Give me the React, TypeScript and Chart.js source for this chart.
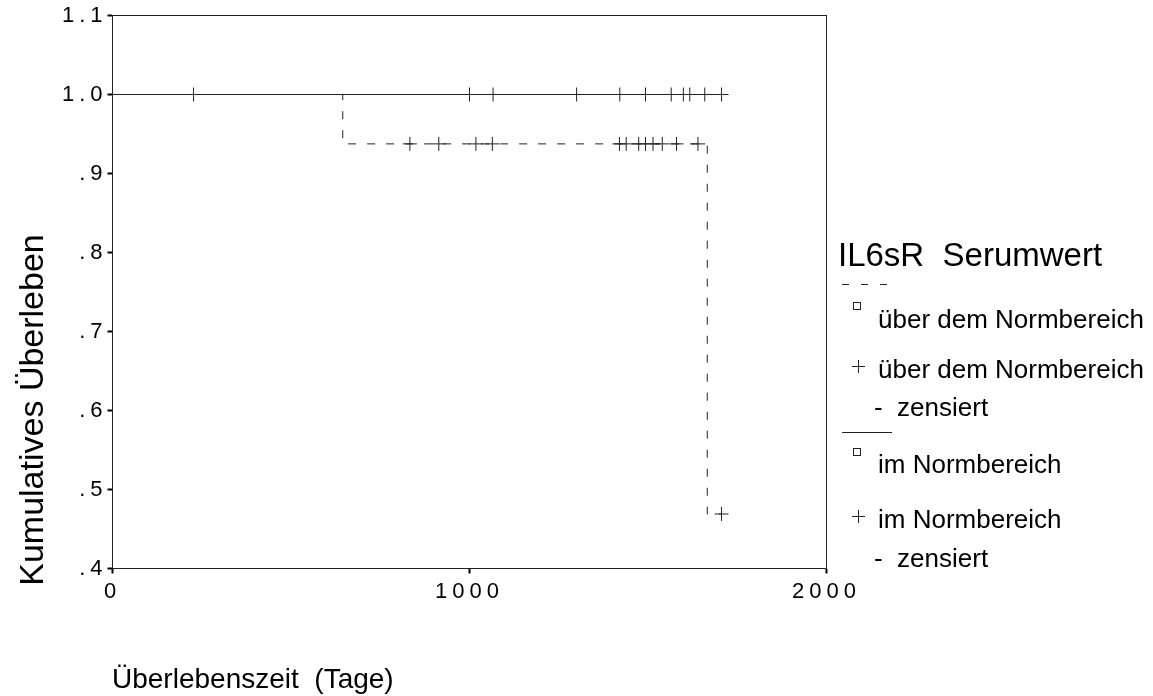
import React, { useEffect, useRef } from "react";
import { Chart, registerables } from "chart.js";

Chart.register(...registerables);

// ---- data ----
const normStepTimes = [0, 1706];
const normStepSurv = [1.0, 1.0];
const normCensorTimes = [227, 1000, 1066, 1300, 1421, 1493, 1565, 1599, 1617, 1659, 1706];
const normCensorSurv = [1, 1, 1, 1, 1, 1, 1, 1, 1, 1, 1];

const highStepTimes = [0, 645, 1666, 1706];
const highStepSurv = [1.0, 0.9375, 0.469, 0.469];
const highCensorTimes = [833, 914, 1018, 1064, 1420, 1439, 1474, 1493, 1514, 1540, 1580, 1640, 1706];
const highCensorSurv = [0.9375, 0.9375, 0.9375, 0.9375, 0.9375, 0.9375, 0.9375, 0.9375, 0.9375, 0.9375, 0.9375, 0.9375, 0.469];

const yTickValues = [0.4, 0.5, 0.6, 0.7, 0.8, 0.9, 1.0, 1.1];
const yTickLabels = [".4", ".5", ".6", ".7", ".8", ".9", "1.0", "1.1"];
const xTickValues = [0, 1000, 2000];
const xTickLabels = ["0", "1000", "2000"];

const xTitle = "Überlebenszeit  (Tage)";
const yTitle = "Kumulatives Überleben";
const legendTitle = "IL6sR  Serumwert";
const legendLabels = [
  "über dem Normbereich",
  "über dem Normbereich",
  "-  zensiert",
  "im Normbereich",
  "im Normbereich",
  "-  zensiert",
];

const FONT = "'Liberation Sans', Arial, sans-serif";
const LINE = "#222";

const toPts = (xs: number[], ys: number[]) => xs.map((x, i) => ({ x, y: ys[i] }));

const decorPlugin = {
  id: "decor",
  beforeDraw(chart: any) {
    (chart.ctx as any).letterSpacing = "5px";
  },
  beforeDatasetsDraw(chart: any) {
    const ctx = chart.ctx;
    (ctx as any).letterSpacing = "0px";
    const a = chart.chartArea;
    ctx.save();
    ctx.strokeStyle = LINE;
    ctx.lineWidth = 1;
    ctx.strokeRect(a.left, a.top, a.right - a.left, a.bottom - a.top);
    ctx.restore();
  },
  afterDraw(chart: any) {
    const ctx = chart.ctx;
    ctx.save();
    (ctx as any).letterSpacing = "0px";
    ctx.fillStyle = "#000";
    ctx.textBaseline = "alphabetic";
    // axis titles
    ctx.font = `28px ${FONT}`;
    ctx.textAlign = "left";
    ctx.fillText(xTitle, 112, 688);
    ctx.save();
    ctx.translate(43, 410);
    ctx.rotate(-Math.PI / 2);
    ctx.textAlign = "center";
    ctx.font = `34px ${FONT}`;
    ctx.fillText(yTitle, 0, 0);
    ctx.restore();

    // legend
    ctx.textAlign = "left";
    ctx.font = `33px ${FONT}`;
    ctx.fillText(legendTitle, 838, 266);
    ctx.strokeStyle = LINE;
    ctx.lineWidth = 1;
    ctx.setLineDash([7, 12]);
    ctx.beginPath();
    ctx.moveTo(842, 284.5);
    ctx.lineTo(888, 284.5);
    ctx.stroke();
    ctx.setLineDash([]);
    ctx.beginPath();
    ctx.moveTo(842, 432.5);
    ctx.lineTo(892, 432.5);
    ctx.stroke();

    const square = (cy: number) => {
      ctx.strokeRect(853.5, cy - 3.5, 7, 7);
    };
    const plus = (cy: number) => {
      ctx.beginPath();
      ctx.moveTo(852, cy + 0.5);
      ctx.lineTo(865, cy + 0.5);
      ctx.moveTo(858.5, cy - 6);
      ctx.lineTo(858.5, cy + 7);
      ctx.stroke();
    };
    square(306);
    plus(366);
    square(452);
    plus(516);

    ctx.font = `26px ${FONT}`;
    const xs = [878, 878, 874, 878, 878, 874];
    const ys = [328, 378, 416, 473, 528, 567];
    legendLabels.forEach((t, i) => ctx.fillText(t, xs[i], ys[i]));
    ctx.restore();
  },
};

export default function App() {
  const ref = useRef<HTMLCanvasElement | null>(null);
  useEffect(() => {
    if (!ref.current) return;
    const chart = new Chart(ref.current, {
      type: "line",
      data: {
        datasets: [
          {
            label: "im Normbereich",
            data: toPts(normStepTimes, normStepSurv),
            stepped: "before",
            borderColor: LINE,
            borderWidth: 1,
            pointRadius: 0,
            fill: false,
          },
          {
            label: "über dem Normbereich",
            data: toPts(highStepTimes, highStepSurv),
            stepped: "before",
            borderColor: LINE,
            borderWidth: 1,
            borderDash: [8, 11],
            pointRadius: 0,
            fill: false,
          },
          {
            label: "im Normbereich - zensiert",
            data: toPts(normCensorTimes, normCensorSurv),
            showLine: false,
            pointStyle: "cross",
            pointRadius: 7,
            pointBorderWidth: 1,
            pointBorderColor: LINE,
            borderColor: LINE,
          },
          {
            label: "über dem Normbereich - zensiert",
            data: toPts(highCensorTimes, highCensorSurv),
            showLine: false,
            pointStyle: "cross",
            pointRadius: 7,
            pointBorderWidth: 1,
            pointBorderColor: LINE,
            borderColor: LINE,
          },
        ],
      },
      options: {
        responsive: false,
        animation: false,
        events: [],
        layout: { padding: { left: 0, right: 326.5, top: 15.5, bottom: 0 } },
        plugins: { legend: { display: false }, tooltip: { enabled: false } },
        scales: {
          x: {
            type: "linear",
            min: 0,
            max: 2000,
            afterFit: (s: any) => {
              s.height = 127.5;
            },
            afterBuildTicks: (s: any) => {
              s.ticks = xTickValues.map((v) => ({ value: v }));
            },
            ticks: {
              color: "#000",
              font: { family: FONT, size: 22 },
              padding: 5,
              maxRotation: 0,
              callback: (v: any) => xTickLabels[xTickValues.indexOf(Number(v))] ?? "",
            },
            grid: {
              drawOnChartArea: false,
              drawTicks: true,
              tickLength: 5,
              tickWidth: 2,
              tickColor: "#000",
            },
            border: { display: true, color: LINE, width: 1 },
          },
          y: {
            type: "linear",
            min: 0.4,
            max: 1.1,
            afterFit: (s: any) => {
              s.width = 112.5;
            },
            afterBuildTicks: (s: any) => {
              s.ticks = yTickValues.map((v) => ({ value: v }));
            },
            ticks: {
              color: "#000",
              font: { family: FONT, size: 22 },
              padding: 0,
              callback: (v: any) => {
                const i = yTickValues.findIndex((t) => Math.abs(t - Number(v)) < 1e-6);
                return i >= 0 ? yTickLabels[i] : "";
              },
            },
            grid: {
              drawOnChartArea: false,
              drawTicks: true,
              tickLength: 5,
              tickWidth: 2,
              tickColor: "#000",
            },
            border: { display: true, color: LINE, width: 1 },
          },
        },
      },
      plugins: [decorPlugin],
    } as any);
    return () => chart.destroy();
  }, []);
  return (
    <div style={{ position: "fixed", left: 0, top: 0, width: 1153, height: 696, background: "#fff" }}>
      <canvas ref={ref} width={1153} height={696} style={{ display: "block" }} />
    </div>
  );
}
